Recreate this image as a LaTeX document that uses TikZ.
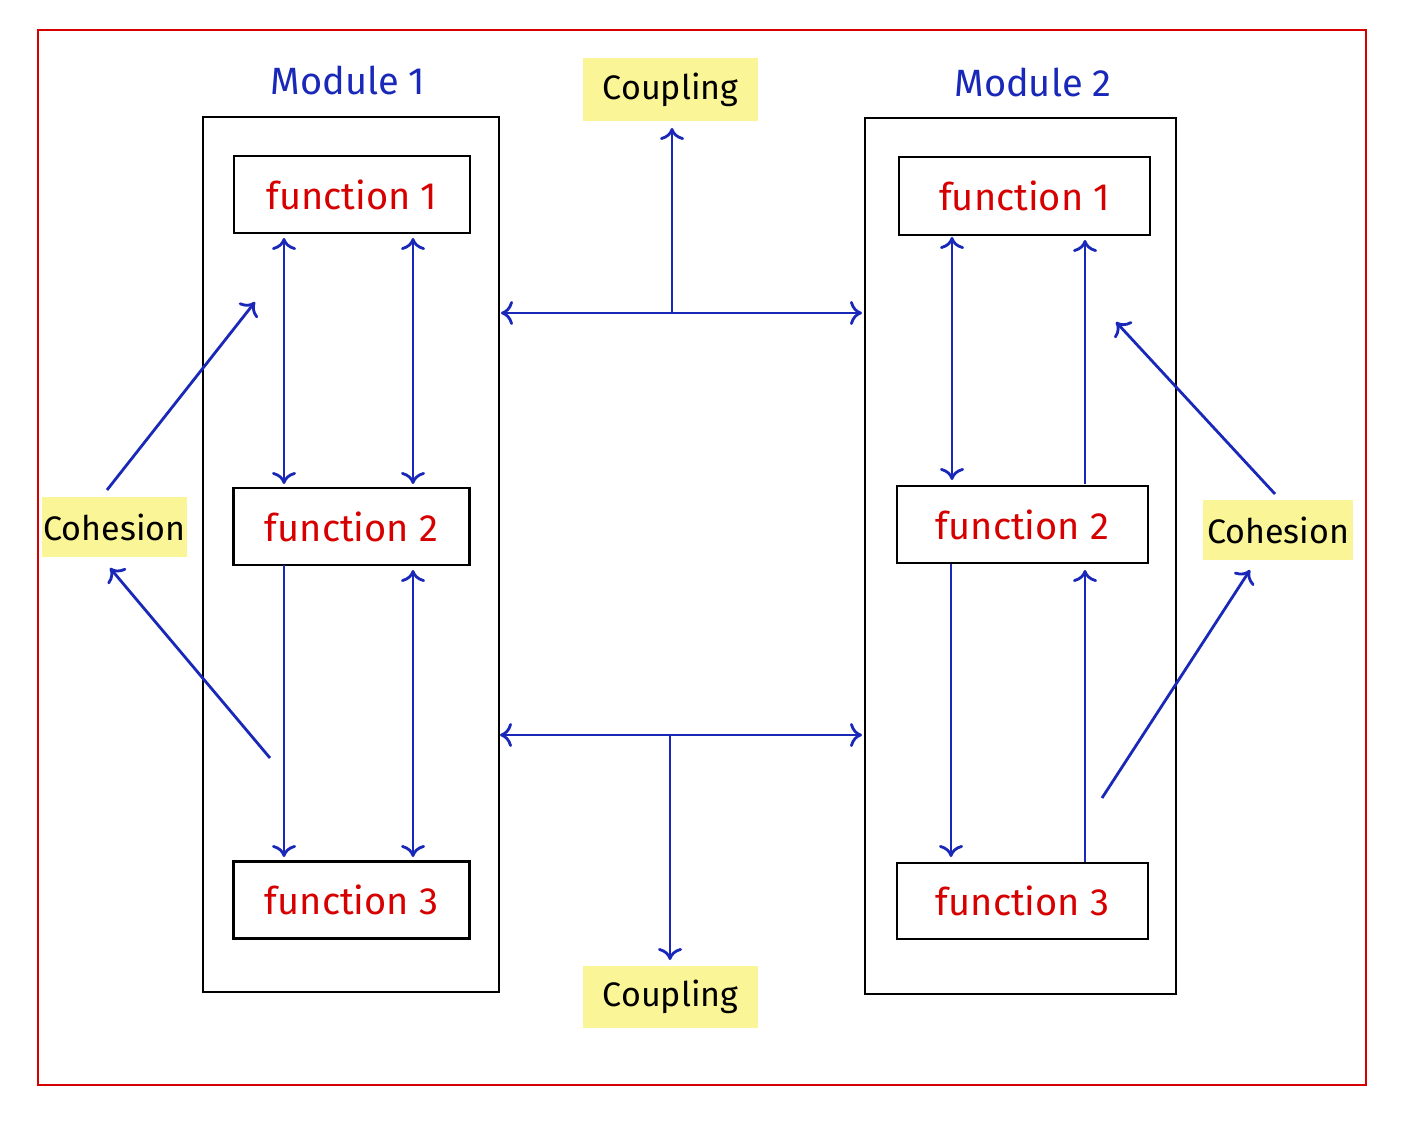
\documentclass[tikz,border=0pt]{standalone}
\usepackage{fontspec}
\setmainfont{Fira Sans}
\usetikzlibrary{arrows.meta}
\definecolor{ablue}{RGB}{25,40,185}
\definecolor{fred}{RGB}{215,0,0}
\definecolor{ylw}{RGB}{250,245,150}
\begin{document}
\begin{tikzpicture}[x=1pt,y=-1pt,
 arr/.style={ablue,line width=2.8pt,-{To[length=12pt,width=24pt,line width=2.8pt]}},
 darr/.style={arr,{To[length=12pt,width=24pt,line width=2.8pt]}-{To[length=12pt,width=24pt,line width=2.8pt]}},
 box/.style={draw,line width=2.8pt},
 fn/.style={box,minimum width=236pt,minimum height=77pt,text=fred,font=\fontsize{38}{42}\selectfont,inner sep=0pt},
 tag/.style={fill=ylw,font=\fontsize{34}{40}\selectfont,inner sep=0pt},
 mlab/.style={text=ablue,font=\fontsize{38}{42}\selectfont}]
\useasboundingbox (0,0) rectangle (1401,1123);
\fill[white] (0,0) rectangle (1401,1123);
\draw[fred,line width=2.8pt] (38,30) rectangle (1366,1085);
\node[box,minimum width=296pt,minimum height=875pt] (m1) at (351,554.5) {};
\node[box,minimum width=311pt,minimum height=876pt] (m2) at (1020.5,556) {};
\node[mlab] (l1) at (348,80) {Module 1};
\node[mlab] (l2) at (1033,82) {Module 2};
\node[fn] (a1) at (352,194.5) {function 1};
\node[fn] (a2) at (351.5,526.5) {function 2};
\node[fn] (a3) at (351.5,900) {function 3};
\node[fn,minimum width=251pt,minimum height=78pt] (b1) at (1024.5,196) {function 1};
\node[fn,minimum width=251pt,minimum height=77pt] (b2) at (1022.5,524.5) {function 2};
\node[fn,minimum width=251pt,minimum height=76pt] (b3) at (1022.5,901) {function 3};
\node[tag,minimum width=175pt,minimum height=63pt] (ct) at (670.5,89.5) {Coupling};
\node[tag,minimum width=175pt,minimum height=62pt] (cb) at (670.5,997) {Coupling};
\node[tag,minimum width=145pt,minimum height=60pt] (hl) at (114.5,527) {Cohesion};
\node[tag,minimum width=150pt,minimum height=60pt] (hr) at (1278,530) {Cohesion};
% module 1
\draw[darr] (284,238) -- (284,484);
\draw[darr] (413,238) -- (413,484);
\draw[arr] (284,565) -- (284,857);
\draw[darr] (413,570) -- (413,857);
% module 2
\draw[darr] (952,237) -- (952,480);
\draw[arr] (1085,484) -- (1085,240);
\draw[arr] (951,564) -- (951,857);
\draw[arr] (1085,862) -- (1085,570);
% coupling
\coordinate (t0) at (672,313);
\coordinate (b0) at (670,735);
\draw[darr] (501,313) -- (862,313);
\draw[arr] (t0) -- (672,128);
\draw[darr] (500,735) -- (862,735);
\draw[arr] (b0) -- (670,960);
% cohesion
\draw[arr] (107,490) -- (255,302);
\draw[arr] (270,758) -- (110,568);
\draw[arr] (1275,494) -- (1116,322);
\draw[arr] (1102,798) -- (1250,570);
\end{tikzpicture}
\end{document}
